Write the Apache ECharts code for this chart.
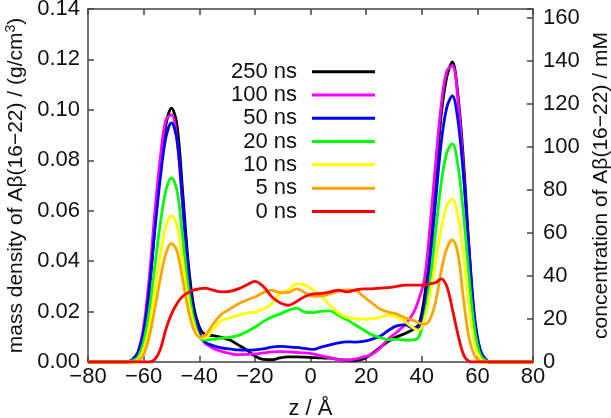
<!DOCTYPE html>
<html>
<head>
<meta charset="utf-8">
<script src="https://cdn.jsdelivr.net/npm/echarts@6/dist/echarts.min.js"></script>
<style>
html,body{margin:0;padding:0;background:#fff;}
#chart{width:611px;height:418px;}
</style>
</head>
<body>
<div id="chart"></div>
<script>
// z positions (Å)
const zValues = [-80,-70,-66,-64,-62,-60,-58,-56,-54,-52,-50,-48,-46,-44,-42,-40,-38,
  -35,-32,-29,-26,-23,-20,-17,-14,-11,-8,-5,-2,1,4,7,10,13,16,19,22,25,28,31,34,
  37,39,41,43,45,47,49,51,53,55,57,59,61,63,65,70,80];

const seriesNames = ['250 ns','100 ns','50 ns','20 ns','10 ns','5 ns','0 ns'];
const seriesColors = ['#000000','#ff00ff','#0000ff','#00ff00','#ffff00','#ffa500','#ff0000'];

// mass density (g/cm^3)
const ns250 = [0,0,0,0.0005,0.003,0.011,0.028,0.053,0.076,0.094,0.1007,0.094,0.068,0.040,0.022,0.014,0.011,
  0.0105,0.0098,0.0087,0.0068,0.0048,0.0024,0.001,0.0009,0.0016,0.002,0.002,0.0019,0.0017,0.0016,0.0015,0.001,0.0007,0.0007,0.0012,0.0032,0.0058,0.0082,0.0100,0.0113,
  0.013,0.015,0.026,0.046,0.072,0.098,0.113,0.119,0.106,0.080,0.045,0.016,0.004,0.0005,0,0,0];
const ns100 = [0,0,0,0.001,0.004,0.014,0.033,0.059,0.081,0.096,0.098,0.088,0.062,0.035,0.018,0.011,0.0075,
  0.0055,0.0042,0.0034,0.0029,0.003,0.0032,0.0036,0.004,0.0041,0.004,0.0038,0.0036,0.0032,0.0024,0.0017,0.001,0.0008,0.0012,0.002,0.003,0.0055,0.0092,0.0118,0.0148,
  0.0195,0.025,0.033,0.054,0.079,0.102,0.1155,0.1175,0.104,0.076,0.042,0.015,0.004,0.0005,0,0,0];
const ns50 = [0,0,0,0.001,0.004,0.012,0.029,0.052,0.073,0.089,0.0948,0.088,0.064,0.037,0.020,0.012,0.008,
  0.0065,0.0056,0.0052,0.0048,0.0047,0.0048,0.0052,0.0059,0.0062,0.006,0.0058,0.0054,0.005,0.006,0.0068,0.0076,0.008,0.0079,0.0082,0.009,0.0102,0.0125,0.0143,0.0147,
  0.0135,0.014,0.022,0.040,0.064,0.087,0.101,0.1055,0.096,0.074,0.045,0.018,0.005,0.001,0,0,0];
const ns20 = [0,0,0,0.0005,0.002,0.008,0.020,0.038,0.055,0.068,0.073,0.068,0.050,0.030,0.017,0.010,0.0087,
  0.009,0.0095,0.0098,0.0105,0.012,0.0138,0.016,0.0178,0.019,0.0205,0.0214,0.0198,0.0196,0.0202,0.0203,0.0185,0.0168,0.0148,0.0128,0.0108,0.0097,0.0089,0.0090,0.0087,
  0.0088,0.0100,0.018,0.032,0.052,0.071,0.083,0.0865,0.078,0.059,0.034,0.013,0.003,0.0005,0,0,0];
const ns10 = [0,0,0,0,0.001,0.005,0.014,0.028,0.042,0.054,0.058,0.054,0.040,0.025,0.015,0.010,0.0095,
  0.013,0.0165,0.0175,0.0185,0.0195,0.0198,0.021,0.023,0.027,0.0285,0.031,0.0305,0.0285,0.026,0.0225,0.0195,0.0178,0.0172,0.017,0.0172,0.0178,0.0185,0.018,0.016,
  0.0135,0.0125,0.017,0.027,0.040,0.053,0.062,0.0647,0.058,0.042,0.022,0.007,0.0015,0,0,0,0];
const ns5 = [0,0,0,0,0.0005,0.003,0.010,0.021,0.033,0.043,0.047,0.044,0.033,0.021,0.013,0.010,0.0105,
  0.015,0.019,0.021,0.023,0.0245,0.0258,0.0275,0.0285,0.0275,0.0276,0.029,0.0275,0.026,0.0262,0.027,0.028,0.0286,0.0285,0.026,0.0235,0.021,0.0198,0.019,0.0175,
  0.0165,0.0155,0.015,0.017,0.024,0.036,0.045,0.0484,0.043,0.025,0.0095,0.0025,0.0003,0,0,0,0];
const ns0 = [0,0,0,0,0,0,0,0.001,0.005,0.013,0.019,0.0232,0.026,0.0275,0.0285,0.029,0.0293,
  0.0285,0.0278,0.028,0.029,0.0305,0.032,0.030,0.026,0.0235,0.0225,0.024,0.026,0.027,0.0272,0.0278,0.0285,0.0278,0.0285,0.029,0.029,0.0293,0.0295,0.030,0.0305,
  0.0305,0.0305,0.0305,0.031,0.0315,0.033,0.030,0.021,0.011,0.003,0.0003,0,0,0,0,0,0];

const allSeries = [ns250, ns100, ns50, ns20, ns10, ns5, ns0];

const xTicks = [-80,-60,-40,-20,0,20,40,60,80];
const leftTicks = [0,0.02,0.04,0.06,0.08,0.10,0.12,0.14];
const rightTicks = [0,20,40,60,80,100,120,140,160];
const rightMax = 164; // mM equivalent of 0.14 g/cm^3

const FONT = 'Liberation Sans';
const axisColor = '#444';

const chart = echarts.init(document.getElementById('chart'), null, {renderer:'canvas'});

const commonAxisLine = {show:true, onZero:false, lineStyle:{color:axisColor, width:1.5}};
const commonTick = {show:true, inside:true, length:6, lineStyle:{color:axisColor, width:1.5}};

const option = {
  backgroundColor:'#fff',
  animation:false,
  grid:{left:88, right:78, top:9, bottom:56, containLabel:false, outerBoundsMode:'none'},
  legend:{
    orient:'vertical',
    align:'right',
    right:231,
    top:55,
    padding:5,
    itemGap:0,
    itemWidth:63,
    itemHeight:3,
    icon:'rect',
    data:seriesNames,
    textStyle:{fontFamily:FONT, fontSize:22, color:'#111', lineHeight:23.3, padding:[0,10,0,0]}
  },
  xAxis:[{
    type:'value', min:xTicks[0], max:xTicks[xTicks.length-1], interval:20,
    position:'bottom',
    axisLine:commonAxisLine, axisTick:commonTick, splitLine:{show:false},
    axisLabel:{fontFamily:FONT, fontSize:22, color:'#111', margin:4,
      formatter:v=>String(v).replace('-','\u2212')},
    name:'z / Å', nameLocation:'middle', nameGap:36,
    nameTextStyle:{fontFamily:FONT, fontSize:22, color:'#111'}
  },{
    type:'value', min:xTicks[0], max:xTicks[xTicks.length-1], interval:20,
    position:'top',
    axisLine:commonAxisLine, axisTick:commonTick, splitLine:{show:false},
    axisLabel:{show:false}
  }],
  yAxis:[{
    type:'value', min:leftTicks[0], max:leftTicks[leftTicks.length-1], interval:0.02,
    position:'left',
    axisLine:commonAxisLine, axisTick:commonTick, splitLine:{show:false},
    axisLabel:{fontFamily:FONT, fontSize:22, color:'#111', margin:8,
      formatter:v=>v.toFixed(2)},
    name:'{a|mass density of Aβ(16\u221222) / (g/cm}{s|3}{a|)}',
    nameLocation:'middle', nameGap:58, nameRotate:90,
    nameTextStyle:{fontFamily:FONT, fontSize:21, color:'#111',
      rich:{a:{fontFamily:FONT, fontSize:21, color:'#111'},
            s:{fontFamily:FONT, fontSize:14, color:'#111', verticalAlign:'top', padding:[0,0,10,0]}}}
  },{
    type:'value', min:rightTicks[0], max:rightMax, interval:20,
    position:'right',
    axisLine:commonAxisLine, axisTick:commonTick, splitLine:{show:false},
    axisLabel:{fontFamily:FONT, fontSize:22, color:'#111', margin:10,
      formatter:v=> (rightTicks.indexOf(Math.round(v))>=0 && Math.abs(v-Math.round(v))<1e-6) ? String(Math.round(v)) : ''},
    name:'concentration of Aβ(16\u221222) / mM',
    nameLocation:'middle', nameGap:57, nameRotate:90,
    nameTextStyle:{fontFamily:FONT, fontSize:21, color:'#111'}
  }],
  series: seriesNames.map((name,i)=>({
    name:name,
    type:'line',
    xAxisIndex:0, yAxisIndex:0,
    data: zValues.map((z,j)=>[z, allSeries[i][j]]),
    showSymbol:false,
    smooth:0.35,
    color:seriesColors[i],
    lineStyle:{width:2.8, color:seriesColors[i]},
    z:2+i
  }))
};
chart.setOption(option);
</script>
</body>
</html>
